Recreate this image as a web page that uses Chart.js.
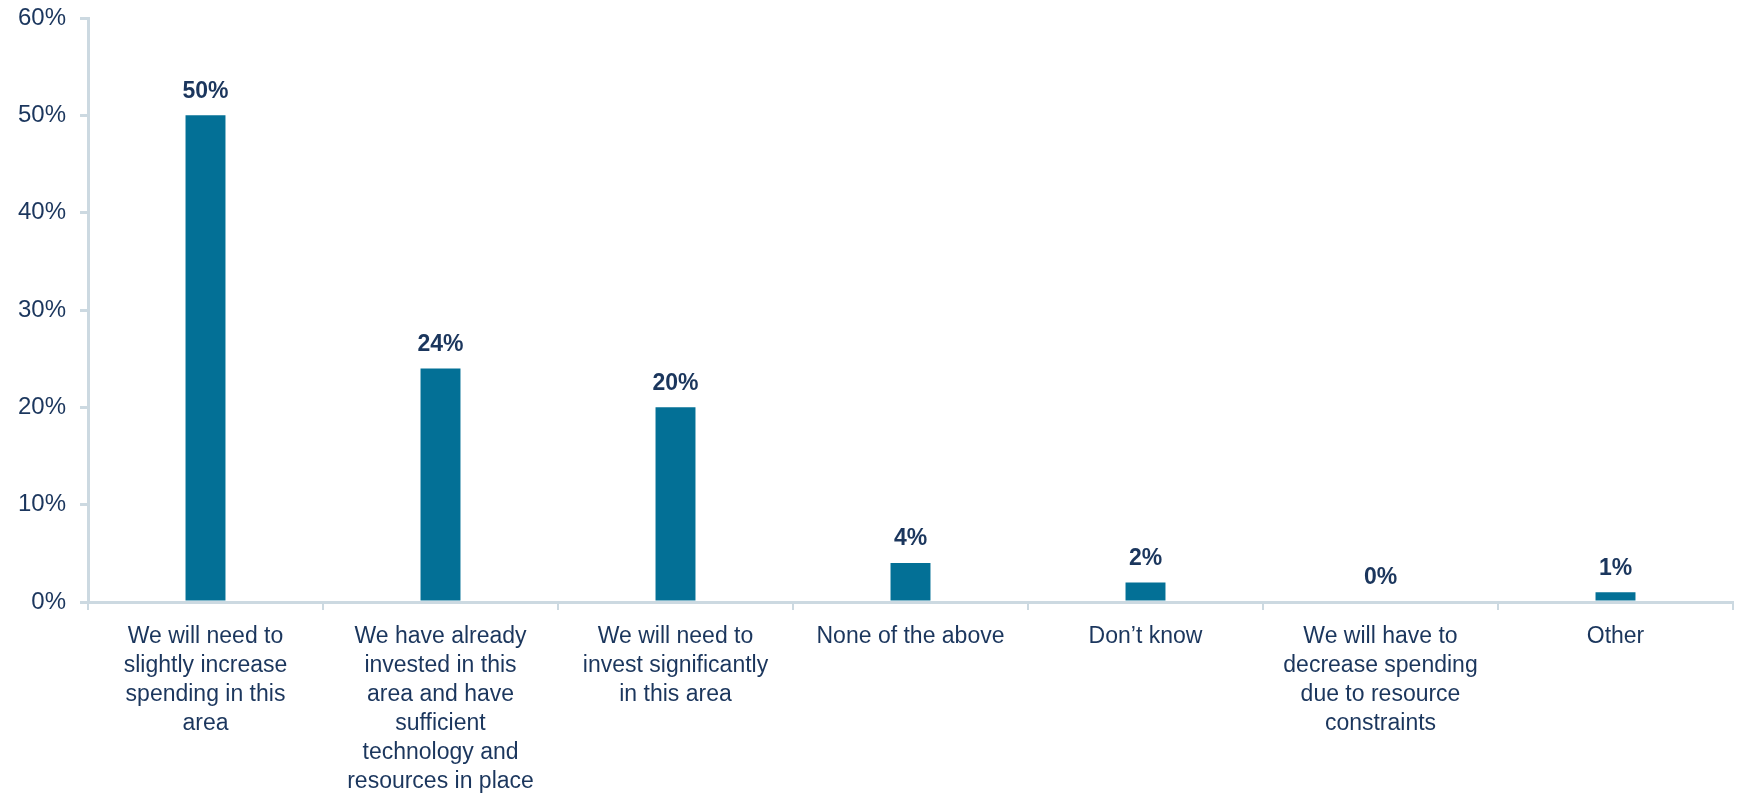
<!DOCTYPE html>
<html>
<head>
<meta charset="utf-8">
<title>Spending outlook</title>
<script src="https://cdn.jsdelivr.net/npm/chart.js@4"></script>
<style>
  html, body { margin: 0; padding: 0; background: #fff; }
  #wrap { width: 1739px; height: 801px; }
</style>
</head>
<body>
<div id="wrap"><canvas id="chart"></canvas></div>
<script>
const categories = [
  ["We will need to", "slightly increase", "spending in this", "area"],
  ["We have already", "invested in this", "area and have", "sufficient", "technology and", "resources in place"],
  ["We will need to", "invest significantly", "in this area"],
  "None of the above",
  "Don\u2019t know",
  ["We will have to", "decrease spending", "due to resource", "constraints"],
  "Other"
];
const shares = [50, 24, 20, 4, 2, 0, 1];
const yTicks = [0, 10, 20, 30, 40, 50, 60];

const textColor = "#1b365d";
const barColor = "#037096";
const axisColor = "#ccd9e1";
const fontFamily = "'Liberation Sans', Arial, sans-serif";

// writes the percentage above each bar
const valueLabels = {
  id: "valueLabels",
  afterDatasetsDraw(chart) {
    const ctx = chart.ctx;
    const meta = chart.getDatasetMeta(0);
    ctx.save();
    ctx.font = "bold 23px " + fontFamily;
    ctx.fillStyle = textColor;
    ctx.textAlign = "center";
    ctx.textBaseline = "middle";
    meta.data.forEach((bar, i) => {
      ctx.fillText(shares[i] + "%", bar.x, bar.y - 24);
    });
    ctx.restore();
  }
};

new Chart(document.getElementById("chart"), {
  type: "bar",
  data: {
    labels: categories,
    datasets: [{
      data: shares,
      backgroundColor: barColor,
      barPercentage: 0.17,
      categoryPercentage: 1
    }]
  },
  options: {
    responsive: true,
    maintainAspectRatio: false,
    animation: false,
    layout: { padding: { top: 18, right: 6, left: 0, bottom: 0 } },
    plugins: {
      legend: { display: false },
      tooltip: { enabled: false }
    },
    scales: {
      x: {
        afterFit(scale) { scale.height = 199; },
        grid: {
          drawOnChartArea: false,
          color: axisColor,
          lineWidth: 2,
          tickLength: 8
        },
        border: { color: axisColor, width: 3 },
        ticks: {
          autoSkip: false,
          maxRotation: 0,
          minRotation: 0,
          padding: 12,
          color: textColor,
          font: { family: fontFamily, size: 23, lineHeight: "29px" }
        }
      },
      y: {
        min: 0,
        max: 60,
        afterFit(scale) {
          scale.width = 88;
          scale.paddingTop = 0;
          scale.paddingBottom = 0;
        },
        afterBuildTicks(scale) { scale.ticks = yTicks.map(v => ({ value: v })); },
        grid: {
          drawOnChartArea: false,
          color: axisColor,
          lineWidth: 3,
          tickLength: 8
        },
        border: { color: axisColor, width: 3 },
        ticks: {
          padding: 14,
          color: textColor,
          font: { family: fontFamily, size: 24 },
          callback: v => v + "%"
        }
      }
    }
  },
  plugins: [valueLabels]
});
</script>
</body>
</html>
